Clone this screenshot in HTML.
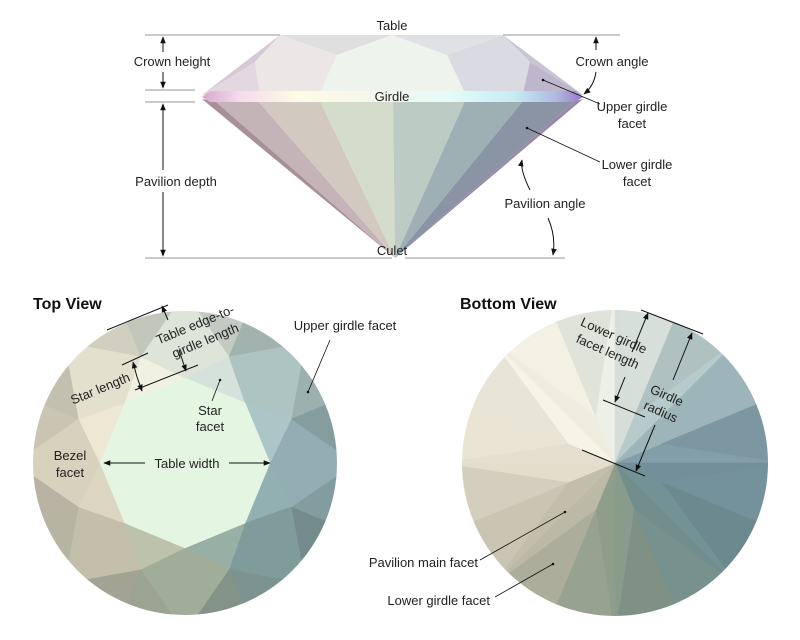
<!DOCTYPE html>
<html><head><meta charset="utf-8">
<style>
html,body{margin:0;padding:0;background:#fff;}
svg{display:block;}
text{font-family:"Liberation Sans",sans-serif;font-size:13px;fill:#222;}
.b{font-weight:bold;font-size:16px;fill:#111;}
</style></head>
<body>
<svg id="s" width="800" height="640" viewBox="0 0 800 640" xmlns="http://www.w3.org/2000/svg">
<defs>
<marker id="ar" viewBox="0 0 10 10" refX="9" refY="5" markerWidth="7" markerHeight="7" orient="auto-start-reverse"><path d="M0,1 L10,5 L0,9 z" fill="#111"/></marker>
<clipPath id="ct"><circle cx="185" cy="463" r="152"/></clipPath>
<clipPath id="cb"><circle cx="615" cy="463" r="153"/></clipPath>
<linearGradient id="gird" x1="0" x2="1" y1="0" y2="0">
<stop offset="0" stop-color="#d8a8d0"/><stop offset="0.1" stop-color="#f4dcec"/><stop offset="0.25" stop-color="#fffbe4"/><stop offset="0.5" stop-color="#f2f6ee"/><stop offset="0.65" stop-color="#e2fcfa"/><stop offset="0.82" stop-color="#c6ecf2"/><stop offset="0.93" stop-color="#b0b8e0"/><stop offset="1" stop-color="#9a78c8"/>
</linearGradient>
</defs>
<g id="side">
<polygon points="202,95 280,35 255,62" fill="#d6c8d4"/>
<polygon points="202,95 255,62 260,93" fill="#e4d8e0"/>
<polygon points="255,62 280,35 337,55 320,93 260,93" fill="#ece6e6"/>
<polygon points="280,35 392,35 337,55" fill="#e0dfe0"/>
<polygon points="337,55 392,35 447,55 465,93 392,93 320,93" fill="#eef3ec"/>
<polygon points="392,35 503,35 447,55" fill="#dfe1e4"/>
<polygon points="447,55 503,35 530,62 523,93 465,93" fill="#dadbe2"/>
<polygon points="503,35 583,95 530,62" fill="#c8c4d2"/>
<polygon points="530,62 583,95 523,93" fill="#beb6cc"/>
<polygon points="202,99 215,101 395,258" fill="#a89098"/>
<polygon points="215,101 258,101 395,258" fill="#c4b4b8"/>
<polygon points="258,101 320,101 395,258" fill="#d2cac0"/>
<polygon points="320,101 393,101 395,258" fill="#d4dccb"/>
<polygon points="393,101 465,101 395,258" fill="#bccbc4"/>
<polygon points="465,101 523,101 395,258" fill="#9fb0b4"/>
<polygon points="523,101 575,101 395,258" fill="#8a94a4"/>
<polygon points="575,101 583,99 395,258" fill="#9a88a8"/>
<polygon points="202,97 210,91 575,91 583,97 575,102 210,102" fill="url(#gird)"/>
</g>
<g stroke="#aaa" stroke-width="1.2" fill="none">
<line x1="145" y1="35" x2="280" y2="35"/><line x1="503" y1="35" x2="620" y2="35"/>
<line x1="145" y1="258" x2="392" y2="258"/><line x1="405" y1="258" x2="565" y2="258"/>
<line x1="145" y1="90" x2="195" y2="90"/><line x1="145" y1="102" x2="195" y2="102"/>
</g>
<g stroke="#111" stroke-width="1" fill="none">
<line x1="163" y1="37" x2="163" y2="52" marker-end="url(#ar)" transform="rotate(180 163 44.5)"/>
<line x1="163" y1="72" x2="163" y2="88" marker-end="url(#ar)"/>
<line x1="163" y1="170" x2="163" y2="104" marker-end="url(#ar)"/>
<line x1="163" y1="192" x2="163" y2="256" marker-end="url(#ar)"/>
<path d="M596,50 Q596,43 596,37" marker-end="url(#ar)"/>
<path d="M596,72 Q594,86 584,94" marker-end="url(#ar)"/>
<path d="M530,190 Q520,170 522,160" marker-end="url(#ar)"/>
<path d="M548,218 Q556,236 553,255" marker-end="url(#ar)"/>
<line x1="543" y1="80" x2="600" y2="104" stroke-width="0.8"/>
<line x1="527" y1="128" x2="600" y2="162" stroke-width="0.8"/>
</g>
<circle cx="543" cy="80" r="1.3" fill="#111"/><circle cx="527" cy="128" r="1.3" fill="#111"/>
<g text-anchor="middle">
<text x="392" y="30">Table</text>
<text x="172" y="66">Crown height</text>
<text x="176" y="186">Pavilion depth</text>
<text x="612" y="66">Crown angle</text>
<text x="632" y="111">Upper girdle</text><text x="632" y="128">facet</text>
<text x="637" y="169">Lower girdle</text><text x="637" y="186">facet</text>
<text x="545" y="208">Pavilion angle</text>
<text x="392" y="101">Girdle</text>
<text x="392" y="255">Culet</text>
</g>
<g id="top" clip-path="url(#ct)"></g>
<g id="bot" clip-path="url(#cb)"></g>
<text class="b" x="33" y="309">Top View</text>
<text class="b" x="460" y="309">Bottom View</text>
<g stroke="#111" stroke-width="1" fill="none">
<line x1="107" y1="330" x2="168" y2="305"/>
<line x1="135" y1="390" x2="198" y2="365"/>
<line x1="122" y1="365" x2="148" y2="353"/>
<line x1="168" y1="320" x2="162" y2="306" marker-end="url(#ar)"/>
<line x1="179" y1="350" x2="186" y2="371" marker-end="url(#ar)"/>
<line x1="137" y1="377" x2="133" y2="362" marker-end="url(#ar)"/>
<line x1="137" y1="377" x2="142" y2="391" marker-end="url(#ar)"/>
<line x1="145" y1="463" x2="104" y2="463" marker-end="url(#ar)"/>
<line x1="229" y1="463" x2="270" y2="463" marker-end="url(#ar)"/>
<line x1="330" y1="340" x2="308" y2="392" stroke-width="0.8"/>
<line x1="220" y1="380" x2="212" y2="401" stroke-width="0.8"/>
<line x1="641" y1="310" x2="703" y2="334"/>
<line x1="603" y1="400" x2="645" y2="417"/>
<line x1="582" y1="450" x2="645" y2="476"/>
<line x1="632" y1="352" x2="648" y2="313" marker-end="url(#ar)"/>
<line x1="625" y1="377" x2="615" y2="402" marker-end="url(#ar)"/>
<line x1="673" y1="380" x2="692" y2="333" marker-end="url(#ar)"/>
<line x1="655" y1="425" x2="636" y2="471" marker-end="url(#ar)"/>
<line x1="480" y1="560" x2="565" y2="512" stroke-width="0.8"/>
<line x1="495" y1="597" x2="553" y2="564" stroke-width="0.8"/>
</g>
<circle cx="308" cy="392" r="1.3" fill="#111"/><circle cx="220" cy="380" r="1.3" fill="#111"/>
<circle cx="565" cy="512" r="1.3" fill="#111"/><circle cx="553" cy="564" r="1.3" fill="#111"/>
<g text-anchor="middle">
<text x="195" y="329" transform="rotate(-22.5 195 324)">Table edge-to-</text>
<text x="205" y="345" transform="rotate(-22.5 205 340)">girdle length</text>
<text x="100" y="393" transform="rotate(-22.5 100 388)">Star length</text>
<text x="345" y="330">Upper girdle facet</text>
<text x="210" y="415">Star</text><text x="210" y="431">facet</text>
<text x="70" y="460">Bezel</text><text x="70" y="477">facet</text>
<text x="187" y="468">Table width</text>
<text x="614" y="340" transform="rotate(24 614 335)">Lower girdle</text>
<text x="608" y="356" transform="rotate(24 608 351)">facet length</text>
<text x="667" y="400" transform="rotate(24 667 395)">Girdle</text>
<text x="661" y="416" transform="rotate(24 661 411)">radius</text>
</g>
<g text-anchor="end">
<text x="478" y="567">Pavilion main facet</text>
<text x="490" y="605">Lower girdle facet</text>
</g>
</svg>
<script>
(function(){
var NS="http://www.w3.org/2000/svg";
function hex(h){return [parseInt(h.substr(1,2),16),parseInt(h.substr(3,2),16),parseInt(h.substr(5,2),16)];}
function mk(keys){var c=keys.map(hex);return function(a,f){a=((a%360)+360)%360;var i=Math.floor(a/45),t=(a-i*45)/45;var p=c[i%8],q=c[(i+1)%8];var r=[0,1,2].map(function(j){var v=(p[j]+(q[j]-p[j])*t)*f;return Math.max(0,Math.min(255,Math.round(v)));});return "rgb("+r.join(",")+")";};}
var topC=mk(["#8fa9ad","#7b9697","#9aa895","#bdb9a6","#d2cbb8","#dcd9c8","#d8ddd2","#a9bebc"]);
var botC=mk(["#7593a0","#6f8e90","#8a9a88","#c0bca8","#e6dfcf","#f6f3e4","#e4eae2","#a9bfc2"]);
function P(cx,cy,a,r){var t=a*Math.PI/180;return [cx+r*Math.cos(t),cy+r*Math.sin(t)];}
function poly(g,pts,col){var e=document.createElementNS(NS,"polygon");e.setAttribute("points",pts.map(function(p){return p[0].toFixed(1)+","+p[1].toFixed(1);}).join(" "));e.setAttribute("fill",col);e.setAttribute("stroke",col);e.setAttribute("stroke-width","0.5");g.appendChild(e);}
var g=document.getElementById("top"),cx=185,cy=463,R=170,rt=85,rs=115;
for(var k=0;k<8;k++){var a=45*k;
 poly(g,[P(cx,cy,a+22.5,rs),P(cx,cy,a,R),P(cx,cy,a+22.5,R)],topC(a+11,0.95));
 poly(g,[P(cx,cy,a+22.5,rs),P(cx,cy,a+22.5,R),P(cx,cy,a+45,R)],topC(a+34,0.9));
 poly(g,[P(cx,cy,a,rt),P(cx,cy,a-22.5,rs),P(cx,cy,a,R),P(cx,cy,a+22.5,rs)],topC(a,1.03));
 poly(g,[P(cx,cy,a,rt),P(cx,cy,a+45,rt),P(cx,cy,a+22.5,rs)],topC(a+22.5,1.1));
}
var tp=[];for(k=0;k<8;k++)tp.push(P(cx,cy,45*k,rt));poly(g,tp,"#e4f6e2");
var b=document.getElementById("bot");cx=615;cy=463;R=172;var ri=50;
for(k=0;k<8;k++){var a=45*k;
 poly(b,[P(cx,cy,a+22.5,ri),P(cx,cy,a,R),P(cx,cy,a+22.5,R)],botC(a+11,1.0));
 poly(b,[P(cx,cy,a+22.5,ri),P(cx,cy,a+22.5,R),P(cx,cy,a+45,R)],botC(a+34,0.96));
 poly(b,[[cx,cy],P(cx,cy,a-22.5,ri),P(cx,cy,a,R)],botC(a-8,1.02));
 poly(b,[[cx,cy],P(cx,cy,a,R),P(cx,cy,a+22.5,ri)],botC(a+8,0.98));
}
})();
</script>
</body></html>
